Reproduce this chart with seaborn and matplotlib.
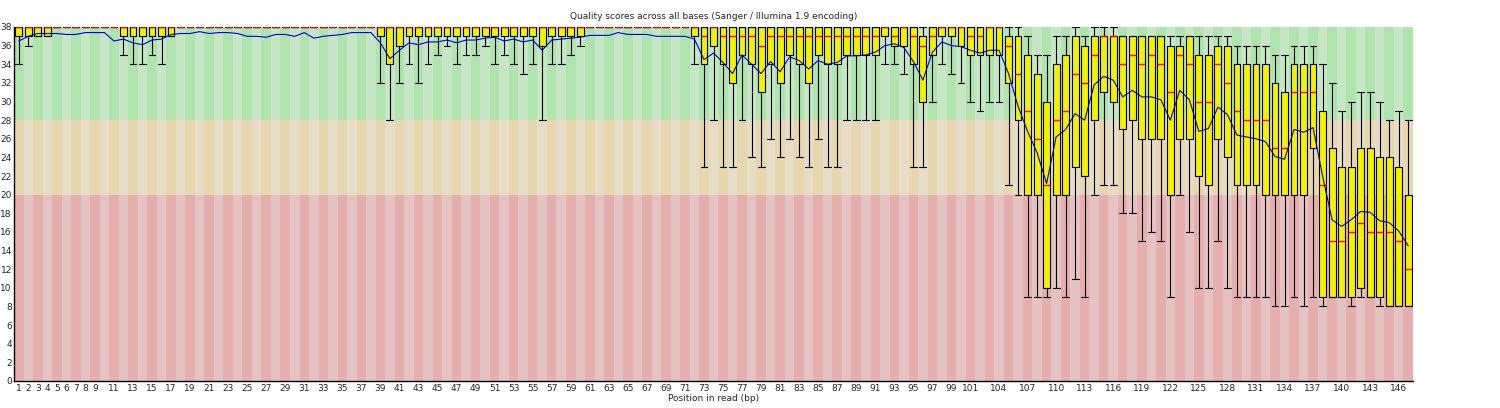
import numpy as np
import pandas as pd
import matplotlib
matplotlib.use("Agg")
import matplotlib.pyplot as plt
import seaborn as sns

positions = list(range(1, 148))

low = [34,36,37,37,37,37,36,37,37,37, 34,35,34,34,35,34,37,37,37,37,
       37,37,37,37,37,36,35,36,36,36, 37,36,36,37,37,37,37,37,32,28,
       32,34,32,34,35,36,34,35,35,36, 34,35,34,33,34,28,34,34,35,36,
       35,36,35,36,36,36,36,35,35,35, 35,34,23,28,23,23,28,24,23,26,
       24,26,24,23,26,23,23,28,28,28, 28,34,34,33,23,23,30,34,33,32,
       30,29,30,30,21,20,9,9,9,10, 9,11,9,20,21,21,18,18,15,16,
       15,9,20,16,10,10,15,10,9,9, 9,9,8,8,9,8,9,8,9,9,
       8,9,9,8,8,8,8]
q1 = [37,37,37,37,38,38,38,38,38,38, 38,37,37,37,37,37,37,38,38,38,
      38,38,38,38,38,38,38,38,38,38, 38,38,38,38,38,38,38,38,37,34,
      36,37,37,37,37,37,37,37,37,37, 37,37,37,37,37,36,37,37,37,37,
      38,38,38,38,38,38,38,38,38,38, 38,37,34,36,34,32,35,34,31,34,
      32,35,34,32,35,34,34,35,35,35, 35,37,36,36,34,30,35,37,37,36,
      35,35,35,35,32,28,20,20,10,20, 20,23,22,28,31,30,27,28,26,26,
      26,20,26,26,22,21,26,24,21,21, 21,20,20,20,20,20,25,9,9,9,
      9,10,9,9,8,8,8]
median = [38]*72 + [37,38,37,37,37,37,36,37,37,37, 37,37,37,37,37,37,37,37,37,38,
          37,38,37,36,37,38,38,38,37,37, 38,38,36,33,29,26,21,28,29,33,
          32,35,37,37,34,35,34,35,34,31, 35,34,30,30,34,32,29,28,28,28,
          25,25,31,31,31,21,15,15,16,17, 16,16,16,15,12]
q3 = [38]*95 + [37,38,38,38,38,38,38,38,38,37, 37,35,33,30,34,35,37,36,37,37,
                37,37,37,37,37,37,36,36,37,35, 35,36,36,34,34,34,34,32,31,34,
                34,34,29,25,23,23,25,25,24,24, 23,20]
high = [38]*104 + [38,38,37,35,35,37,37,38,37,38, 38,38,37,37,37,37,37,37,37,37,
                   37,37,37,37,36,36,36,36,35,35, 36,36,36,34,32,29,30,31,31,30,
                   28,29,28]
mean = [36.5,37.0,37.3,37.3,37.3,37.2,37.2,37.4,37.4,37.4,
        36.5,36.7,36.3,36.1,36.6,36.7,37.2,37.3,37.3,37.5,
        37.3,37.4,37.4,37.3,37.0,37.0,36.9,37.2,37.2,37.0,
        37.4,36.8,37.0,37.1,37.2,37.4,37.4,37.4,36.3,34.6,
        35.5,36.3,36.1,36.4,36.4,36.6,36.3,36.6,36.6,36.8,
        36.9,36.5,36.7,36.4,36.6,35.5,36.6,36.7,36.8,36.9,
        37.1,37.1,37.1,37.4,37.2,37.2,37.2,37.0,37.0,37.0,
        37.0,36.7,34.5,35.2,34.2,33.0,35.0,34.0,33.0,34.3,
        33.2,34.8,34.4,33.5,34.4,34.0,34.2,34.9,34.9,35.0,
        35.3,36.0,36.2,35.8,34.3,32.3,35.3,36.4,36.0,35.9,
        35.5,35.2,35.5,35.5,33.0,29.5,26.8,24.5,21.2,26.2,
        27.0,28.7,28.0,31.8,32.7,32.3,30.5,31.2,30.5,30.5,
        30.2,28.0,31.2,30.2,26.8,27.1,29.4,28.6,26.4,26.2,
        26.0,25.7,24.1,23.8,27.0,26.7,27.2,22.0,17.3,16.6,
        17.3,18.2,18.1,17.2,17.0,16.1,14.5]

tick_labels = [str(p) for p in list(range(1, 10)) + list(range(11, 102, 2)) + list(range(104, 147, 3))]

rows = []
for p, a, b, c, d, e in zip(positions, low, q1, median, q3, high):
    for v in (a, b, c, d, e):
        rows.append({"pos": p, "q": v})
df = pd.DataFrame(rows)
mdf = pd.DataFrame({"idx": np.arange(len(positions)), "mean": mean})

sns.set_theme(style="white")
plt.rcParams["font.family"] = ["DejaVu Sans"]

fig = plt.figure(figsize=(15, 4.08), dpi=100)
ax = fig.add_axes([14/1500, 27/408, 1399/1500, 354/408])

n = len(positions)
bands = [(0, 20, "#E6AFAF", "#E6C3C3"), (20, 28, "#E6D7AF", "#E6DCC8"), (28, 38, "#AFE4AF", "#C6E6C6")]
for i in range(n):
    for lo_, hi_, dark, light in bands:
        ax.axvspan(i - 0.5, i + 0.5, ymin=lo_/38, ymax=hi_/38,
                   color=dark if i % 2 == 0 else light, lw=0, zorder=0)

sns.boxplot(data=df, x="pos", y="q", order=positions, ax=ax, whis=np.inf,
            width=0.72, color="#F2F200", saturation=1, linecolor="black",
            linewidth=0.8, showfliers=False,
            medianprops={"color": "#FF0000", "linewidth": 1.0},
            capwidths=0.72, zorder=2)

sns.lineplot(data=mdf, x="idx", y="mean", ax=ax, color="#0000DD", lw=0.8, zorder=3)

ax.set_xlim(-0.5, n - 0.5)
ax.set_ylim(0, 38)
ax.set_yticks(range(0, 39, 2))
ax.set_yticklabels([str(v) for v in range(0, 39, 2)], fontsize=6.5)
ax.set_xticks([int(t) - 1 for t in tick_labels])
ax.set_xticklabels(tick_labels, fontsize=6.5)
ax.tick_params(axis="y", length=0, pad=1.5)
ax.tick_params(axis="x", length=0, pad=2)
ax.set_xlabel("Position in read (bp)", fontsize=6.5, labelpad=1)
ax.set_ylabel("")
ax.set_title("Quality scores across all bases (Sanger / Illumina 1.9 encoding)", fontsize=6.5, pad=6)
for s in ["top", "right"]:
    ax.spines[s].set_visible(False)
for s in ["left", "bottom"]:
    ax.spines[s].set_color("black")
    ax.spines[s].set_linewidth(1)

fig.savefig("out.png", dpi=100)
